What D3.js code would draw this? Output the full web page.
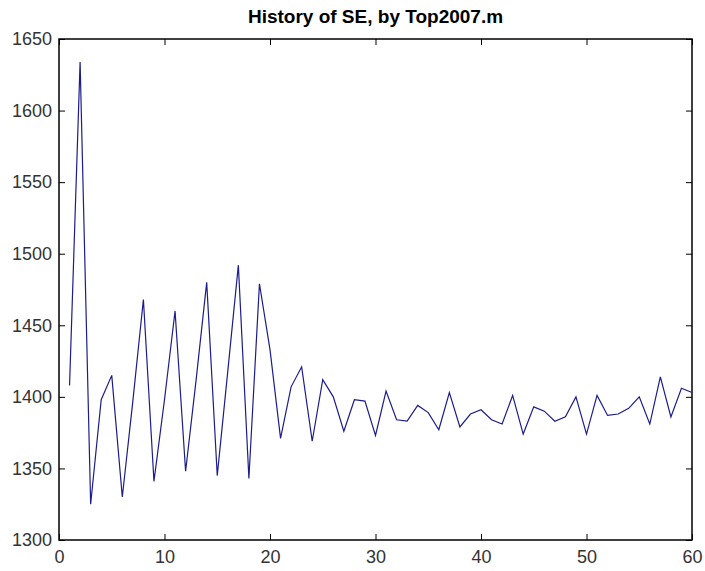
<!DOCTYPE html>
<html>
<head>
<meta charset="utf-8">
<script src="https://cdn.jsdelivr.net/npm/d3@7"></script>
<style>
  body { margin: 0; background: #fff; }
  text { font-family: "Liberation Sans", Arial, sans-serif; }
</style>
</head>
<body>
<div id="chart"></div>
<script>
// iterations 1..60 and the SE value at each one
var iterations = d3.range(1, 61);
var seValues = [
  1408, 1634, 1325, 1398, 1415, 1330, 1397, 1468, 1341, 1398,
  1460, 1348, 1412, 1480, 1345, 1418, 1492, 1343, 1479, 1433,
  1371, 1407, 1421, 1369, 1412, 1400, 1376, 1398, 1397, 1373,
  1404, 1384, 1383, 1394, 1389, 1377, 1403, 1379, 1388, 1391,
  1384, 1381, 1401, 1374, 1393, 1390, 1383, 1386, 1400, 1374,
  1401, 1387, 1388, 1392, 1400, 1381, 1414, 1386, 1406, 1403
];
var xTicks = [0, 10, 20, 30, 40, 50, 60];
var yTicks = [1300, 1350, 1400, 1450, 1500, 1550, 1600, 1650];
var title = "History of SE, by Top2007.m";

var W = 705, H = 571;
var margin = { top: 39, right: 13, bottom: 31, left: 59 },
    w = W - margin.left - margin.right,
    h = H - margin.top - margin.bottom;

var svg = d3.select("#chart")
            .append("svg")
            .attr("width", W)
            .attr("height", H);

var g = svg.append("g")
           .attr("transform", "translate(" + margin.left + "," + margin.top + ")");

var x = d3.scaleLinear().domain([0, 60]).range([0, w]);
var y = d3.scaleLinear().domain([1300, 1650]).range([h, 0]);

// ticks point inwards on all four sides, like matlab's box
var tick = 6;

g.append("g")
 .attr("transform", "translate(0," + h + ")")
 .call(d3.axisBottom(x).tickValues(xTicks).tickSizeInner(-tick).tickSizeOuter(0).tickPadding(10).tickFormat(d3.format("d")))
 .call(function(a) { a.select(".domain").remove(); });

g.append("g")
 .call(d3.axisTop(x).tickValues(xTicks).tickSizeInner(-tick).tickSizeOuter(0).tickFormat(""))
 .call(function(a) { a.select(".domain").remove(); });

g.append("g")
 .call(d3.axisLeft(y).tickValues(yTicks).tickSizeInner(-tick).tickSizeOuter(0).tickPadding(7).tickFormat(d3.format("d")))
 .call(function(a) { a.select(".domain").remove(); });

g.append("g")
 .attr("transform", "translate(" + w + ",0)")
 .call(d3.axisRight(y).tickValues(yTicks).tickSizeInner(-tick).tickSizeOuter(0).tickFormat(""))
 .call(function(a) { a.select(".domain").remove(); });

g.selectAll(".tick line").attr("stroke", "#000");
g.selectAll(".tick text")
 .attr("fill", "#333")
 .style("font-size", "18px");

// frame
g.append("rect")
 .attr("width", w)
 .attr("height", h)
 .attr("fill", "none")
 .attr("stroke", "#000")
 .attr("stroke-width", 1.5);

var line = d3.line()
             .x(function(d, i) { return x(iterations[i]); })
             .y(function(d) { return y(d); });

g.append("path")
 .datum(seValues)
 .attr("fill", "none")
 .attr("stroke", "#1c1c8c")
 .attr("stroke-width", 1.2)
 .attr("d", line);

svg.append("text")
   .attr("x", margin.left + w / 2)
   .attr("y", 23)
   .attr("text-anchor", "middle")
   .style("font-size", "19px")
   .style("font-weight", "bold")
   .text(title);
</script>
</body>
</html>
